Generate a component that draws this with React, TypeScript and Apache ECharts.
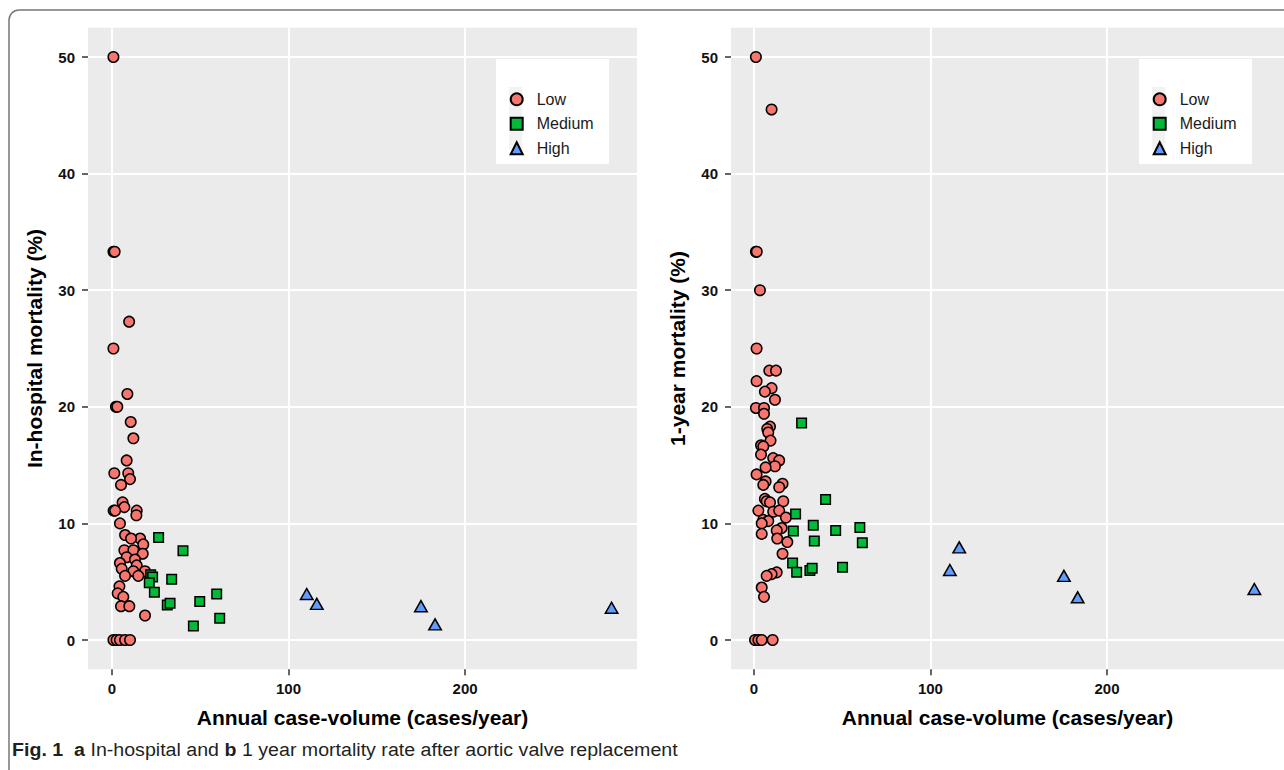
import React, { useEffect, useRef } from 'react';
import * as echarts from 'echarts';

const categories = ['Low', 'Medium', 'High'];
const xTicks = [0, 100, 200];
const yTicks = [0, 10, 20, 30, 40, 50];

// Panel a: in-hospital mortality (%) vs annual case volume
const inHospitalLow: number[][] = [
  [0.8, 50], [0.8, 33.3], [1.5, 33.3], [9.7, 27.3], [0.8, 25.0], [8.7, 21.1],
  [2.2, 20.0], [3.0, 20.0], [10.6, 18.7], [12.1, 17.3], [8.3, 15.4], [1.3, 14.3],
  [9.2, 14.3], [10.2, 13.8], [5.1, 13.3], [6.0, 11.8], [7.0, 11.4], [0.9, 11.1],
  [1.8, 11.1], [14.0, 11.1], [13.8, 10.7], [4.5, 10.0], [7.4, 9.0], [15.9, 8.7],
  [10.8, 8.7], [17.7, 8.2], [7.0, 7.7], [12.1, 7.7], [17.4, 7.4], [8.3, 7.1],
  [13.0, 6.9], [4.5, 6.6], [14.0, 6.4], [5.5, 6.1], [12.1, 5.9], [18.7, 5.9],
  [7.4, 5.5], [14.9, 5.5], [4.2, 4.6], [3.2, 4.0], [6.4, 3.7], [5.1, 2.9],
  [9.8, 2.9], [18.7, 2.1], [0.8, 0], [2.6, 0], [4.5, 0], [7.4, 0], [10.2, 0],
];
const inHospitalMedium: number[][] = [
  [26.4, 8.8], [40.2, 7.65], [21.9, 5.6], [23.0, 5.4], [21.1, 4.9], [33.8, 5.2],
  [24.0, 4.1], [31.3, 3.0], [32.9, 3.15], [49.7, 3.3], [59.3, 3.95], [61.0, 1.86],
  [46.1, 1.2],
];
const inHospitalHigh: number[][] = [
  [110.3, 3.94], [116.0, 3.1], [175.0, 2.9], [183.0, 1.34], [283.0, 2.77],
];

// Panel b: 1-year mortality (%) vs annual case volume
const oneYearLow: number[][] = [
  [1.1, 50], [10.0, 45.5], [1.1, 33.3], [1.6, 33.3], [3.4, 30.0], [1.5, 25.0],
  [8.7, 23.1], [12.5, 23.1], [1.5, 22.2], [10.0, 21.6], [6.2, 21.3], [11.9, 20.6],
  [1.1, 19.9], [5.7, 19.9], [5.7, 19.4], [9.1, 18.3], [7.5, 18.1], [8.1, 17.8],
  [9.4, 17.1], [4.0, 16.7], [5.3, 16.6], [4.0, 15.9], [10.9, 15.6], [14.3, 15.4],
  [11.9, 14.9], [6.6, 14.8], [1.5, 14.2], [6.6, 13.6], [16.2, 13.4], [5.3, 13.3],
  [14.3, 13.1], [6.2, 12.1], [7.2, 11.9], [9.1, 11.8], [16.6, 11.9], [2.5, 11.1],
  [10.9, 11.0], [14.3, 11.1], [18.1, 10.5], [5.3, 10.3], [8.1, 10.2], [4.4, 10.0],
  [15.7, 9.6], [12.9, 9.4], [4.4, 9.1], [13.2, 8.7], [18.9, 8.4], [16.2, 7.4],
  [12.9, 5.8], [10.0, 5.65], [7.2, 5.5], [4.4, 4.5], [5.7, 3.7],
  [0.6, 0], [2.5, 0], [4.4, 0], [10.6, 0],
];
const oneYearMedium: number[][] = [
  [27.0, 18.6], [40.6, 12.05], [23.6, 10.8], [33.6, 9.85], [22.3, 9.35], [46.3, 9.4],
  [60.0, 9.65], [34.2, 8.5], [61.4, 8.35], [21.9, 6.6], [24.2, 5.8], [31.7, 5.95],
  [33.0, 6.15], [50.2, 6.23],
];
const oneYearHigh: number[][] = [
  [116.3, 7.94], [111.0, 6.0], [175.6, 5.5], [183.4, 3.66], [283.5, 4.37],
];

const xTitle = 'Annual case-volume (cases/year)';
const yTitles = ['In-hospital mortality (%)', '1-year mortality (%)'];

const FAM = '"Liberation Sans", Arial, Helvetica, sans-serif';
const fills: Record<string, string> = { Low: '#F8766D', Medium: '#00BA38', High: '#619CFF' };
const shapes: Record<string, string> = { Low: 'circle', Medium: 'rect', High: 'triangle' };
const sizes: Record<string, any> = { Low: 10.5, Medium: 9.5, High: [12.5, 11] };

const panels = [
  { data: [inHospitalLow, inHospitalMedium, inHospitalHigh], left: 88, width: 549, xMin: -13.6, xMax: 297.4 },
  { data: [oneYearLow, oneYearMedium, oneYearHigh], left: 731, width: 553, xMin: -13.0, xMax: 300.3 },
];

const CAPTION_PARTS: [string, boolean][] = [
  ['Fig. 1', true], ['  ', false], ['a', true], [' In-hospital and ', false], ['b', true],
  [' 1 year mortality rate after aortic valve replacement', false],
];

export default function App() {
  const ref = useRef<HTMLDivElement>(null);
  useEffect(() => {
    if (!ref.current) return;
    const chart = echarts.init(ref.current, undefined, { renderer: 'svg' });

    const capSize = 19;
    let capWidth = 700;
    try {
      const cv = document.createElement('canvas');
      const ctx = cv.getContext('2d');
      if (ctx) {
        capWidth = 0;
        for (const [t, b] of CAPTION_PARTS) {
          ctx.font = `${b ? 'bold ' : ''}${capSize}px ${FAM}`;
          capWidth += ctx.measureText(t).width;
        }
      }
    } catch (e) { /* ignore */ }
    const capScale = 666 / capWidth;
    const capText = CAPTION_PARTS.map(([t, b]) => (b ? `{b|${t}}` : t)).join('');

    const tickLabel = { fontSize: 15, fontWeight: 'bold', color: '#111', fontFamily: FAM };
    const titleStyle = { fontSize: 21, fontWeight: 'bold', color: '#000', fontFamily: FAM };

    const grids = panels.map((p) => ({
      left: p.left, top: 27.85, width: p.width, height: 641.3,
      show: true, backgroundColor: '#ebebeb', borderWidth: 0, containLabel: false,
    }));
    const xAxes = panels.map((p, i) => ({
      type: 'value', gridIndex: i, min: p.xMin, max: p.xMax, position: 'bottom',
      axisLine: { show: false, onZero: false },
      axisTick: { show: true, length: 6, lineStyle: { color: '#333', width: 1.5 }, customValues: xTicks },
      axisLabel: { ...tickLabel, margin: 12, customValues: xTicks },
      splitLine: { show: true, lineStyle: { color: '#ffffff', width: 2 } },
      name: xTitle, nameLocation: 'middle', nameGap: 38, nameTextStyle: titleStyle,
    }));
    const yAxes = panels.map((p, i) => ({
      type: 'value', gridIndex: i, min: -2.5, max: 52.5, position: 'left',
      axisLine: { show: false, onZero: false },
      axisTick: { show: true, length: 6, lineStyle: { color: '#333', width: 1.5 }, customValues: yTicks },
      axisLabel: { ...tickLabel, margin: 13, customValues: yTicks },
      splitLine: { show: true, lineStyle: { color: '#ffffff', width: 2 } },
      name: yTitles[i], nameLocation: 'middle', nameGap: 43, nameTextStyle: titleStyle,
    }));

    const series: any[] = [];
    panels.forEach((p, i) => {
      categories.forEach((c, k) => {
        series.push({
          type: 'scatter', name: c, xAxisIndex: i, yAxisIndex: i,
          data: p.data[k], symbol: shapes[c], symbolSize: sizes[c],
          itemStyle: { color: fills[c], borderColor: '#000', borderWidth: 1.5, opacity: 1 },
          emphasis: { disabled: true }, z: 3, clip: false,
        });
      });
    });

    const legendLefts = [496, 1139];
    const legends = legendLefts.map((l) => ({
      data: categories, orient: 'vertical', left: l, top: 59,
      padding: [32.3, 0, 0, 13.7], itemWidth: 12, itemHeight: 12, itemGap: 8.5,
      textStyle: { fontSize: 16, color: '#1a1a1a', fontFamily: FAM, padding: [0, 0, 0, 9] },
      selectedMode: false, backgroundColor: 'transparent', z: 5,
    }));

    const graphic: any[] = [];
    legendLefts.forEach((l) => {
      graphic.push({ type: 'rect', z: 4, silent: true, shape: { x: l, y: 59, width: 113, height: 105 }, style: { fill: '#ffffff' } });
      graphic.push({ type: 'rect', z: 4, silent: true, shape: { x: l + 13.2, y: 87, width: 13, height: 63 }, style: { fill: '#f2f2f2' } });
    });
    graphic.push({
      type: 'rect', z: 10, silent: true,
      shape: { x: 9, y: 10, width: 1400, height: 900, r: 10 },
      style: { fill: 'none', stroke: '#777777', lineWidth: 1.5 },
    });
    graphic.push({
      type: 'text', z: 10, silent: true, x: 12, y: 750, scaleX: capScale,
      style: {
        text: capText, fontSize: capSize, fontFamily: FAM, fill: '#231f20',
        verticalAlign: 'middle', align: 'left',
        rich: { b: { fontSize: capSize, fontFamily: FAM, fontWeight: 'bold', fill: '#231f20' } },
      },
    });

    chart.setOption({
      animation: false,
      backgroundColor: '#ffffff',
      textStyle: { fontFamily: FAM },
      grid: grids,
      xAxis: xAxes,
      yAxis: yAxes,
      legend: legends,
      series,
      graphic,
    });
    return () => chart.dispose();
  }, []);
  return (
    <div
      ref={ref}
      style={{ position: 'fixed', left: 0, top: 0, width: 1284, height: 770, background: '#fff' }}
    />
  );
}
